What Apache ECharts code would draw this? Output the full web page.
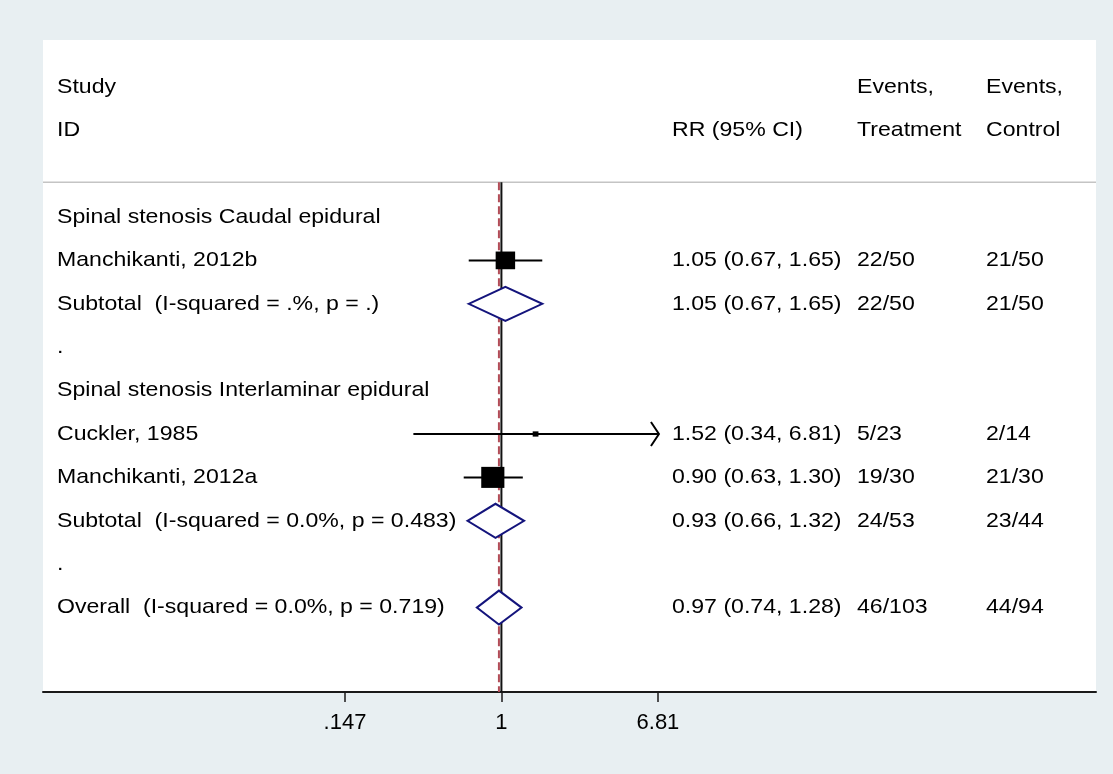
<!DOCTYPE html>
<html>
<head>
<meta charset="utf-8">
<script src="https://cdn.jsdelivr.net/npm/echarts@6/dist/echarts.min.js"></script>
<style>
html,body{margin:0;padding:0;background:#e8eff2;}
#chart{width:1113px;height:774px;}
</style>
</head>
<body>
<div id="chart"></div>
<script>
// ---------- data ----------
var rowLabels = [
  'Spinal stenosis Caudal epidural',
  'Manchikanti, 2012b',
  'Subtotal  (I-squared = .%, p = .)',
  '.',
  'Spinal stenosis Interlaminar epidural',
  'Cuckler, 1985',
  'Manchikanti, 2012a',
  'Subtotal  (I-squared = 0.0%, p = 0.483)',
  '.',
  'Overall  (I-squared = 0.0%, p = 0.719)'
];
var rowTypes = ['group','study','subtotal','blank','group','study','study','subtotal','blank','overall'];
var rrValues = [null, 1.05, 1.05, null, null, 1.52, 0.90, 0.93, null, 0.97];
var ciLow    = [null, 0.67, 0.67, null, null, 0.34, 0.63, 0.66, null, 0.74];
var ciHigh   = [null, 1.65, 1.65, null, null, 6.81, 1.30, 1.32, null, 1.28];
var weights  = [null, 40.0, null, null, null, 3.5, 56.5, null, null, null];
var eventsTreatment = ['', '22/50', '22/50', '', '', '5/23', '19/30', '24/53', '', '46/103'];
var eventsControl   = ['', '21/50', '21/50', '', '', '2/14', '21/30', '23/44', '', '44/94'];
var headerCol1 = ['Study', 'ID'];
var headerCol2 = ['', 'RR (95% CI)'];
var headerCol3 = ['Events,', 'Treatment'];
var headerCol4 = ['Events,', 'Control'];
var tickValues = [0.147, 1, 6.81];
var tickLabels = ['.147', '1', '6.81'];

// ---------- layout ----------
var FONT = '"Liberation Sans", Arial, Helvetica, sans-serif';
var FS = 21, SX = 1.1;
var colX = [57, 672, 857, 986];
var headerRows = [-3, -2];
var sepRow = -0.8;
var xMin = -5.618, xMax = 7.287;
var yMin = -4.078, yMax = 10.945;

var chart = echarts.init(document.getElementById('chart'), null, {renderer: 'canvas'});

function txt(x, y, s) {
  return {type: 'text', x: x, y: y, scaleX: SX,
    style: {text: s, fill: '#000', fontSize: FS, fontFamily: FONT, align: 'left', verticalAlign: 'middle'}};
}
function fmt(i) {
  return rrValues[i].toFixed(2) + ' (' + ciLow[i].toFixed(2) + ', ' + ciHigh[i].toFixed(2) + ')';
}

var rowIdx = rowLabels.map(function (_, i) { return [0, i]; });
var lnTicks = tickValues.map(function (v) { return Math.log(v); });
var overallIdx = rowTypes.indexOf('overall');

var option = {
  animation: false,
  backgroundColor: '#e8eff2',
  grid: {left: 43, right: 17, top: 40, bottom: 82, show: true, backgroundColor: '#ffffff', borderWidth: 0},
  xAxis: {
    type: 'value', min: xMin, max: xMax,
    splitLine: {show: false},
    axisLine: {show: true, onZero: false, lineStyle: {color: '#1a1a1a', width: 2}},
    axisTick: {show: true, customValues: lnTicks, length: 10, lineStyle: {color: '#1a1a1a', width: 1.5}},
    axisLabel: {show: true, customValues: lnTicks, margin: 20, fontSize: 22, fontFamily: FONT, color: '#000',
      formatter: function (v) {
        for (var k = 0; k < lnTicks.length; k++) { if (Math.abs(lnTicks[k] - v) < 1e-6) return tickLabels[k]; }
        return '';
      }}
  },
  yAxis: {type: 'value', min: yMin, max: yMax, inverse: true, show: false},
  series: [
    { // reference lines
      type: 'custom', silent: true, clip: false,
      data: [[0, 0]],
      renderItem: function (params, api) {
        var top = api.coord([0, sepRow])[1];
        var bot = api.coord([0, yMax])[1];
        var x1 = api.coord([0, 0])[0];
        var xo = api.coord([Math.log(rrValues[overallIdx]), 0])[0];
        var gl = api.coord([xMin, 0])[0], gr = api.coord([xMax, 0])[0];
        return {type: 'group', children: [
          {type: 'line', shape: {x1: gl, y1: top, x2: gr, y2: top}, style: {stroke: '#c4c4c4', lineWidth: 1.5}},
          {type: 'line', shape: {x1: x1, y1: top, x2: x1, y2: bot}, style: {stroke: '#111', lineWidth: 2}},
          {type: 'line', shape: {x1: xo, y1: top, x2: xo, y2: bot}, style: {stroke: '#b24c57', lineWidth: 2, lineDash: [8, 4]}}
        ]};
      }
    },
    { // CI lines + squares
      type: 'custom', silent: true, clip: false,
      data: rowIdx,
      renderItem: function (params, api) {
        var i = params.dataIndex;
        if (rowTypes[i] !== 'study') return null;
        var cap = lnTicks[lnTicks.length - 1], capL = lnTicks[0];
        var l = Math.max(Math.log(ciLow[i]), capL), h = Math.min(Math.log(ciHigh[i]), cap);
        var p1 = api.coord([l, i]), p2 = api.coord([h, i]), c = api.coord([Math.log(rrValues[i]), i]);
        var ch = [{type: 'line', shape: {x1: p1[0], y1: p1[1], x2: p2[0], y2: p2[1]}, style: {stroke: '#000', lineWidth: 2}}];
        if (Math.log(ciHigh[i]) >= cap - 1e-9) {
          ch.push({type: 'polyline', shape: {points: [[p2[0] - 7, p2[1] - 12], [p2[0] + 1, p2[1]], [p2[0] - 7, p2[1] + 12]]},
            style: {stroke: '#000', lineWidth: 2, fill: null}});
        }
        var s = 2.8 * Math.sqrt(weights[i]);
        var w = s * SX;
        ch.push({type: 'rect', shape: {x: c[0] - w / 2, y: c[1] - s / 2, width: w, height: s}, style: {fill: '#000'}});
        return {type: 'group', children: ch};
      }
    },
    { // diamonds
      type: 'custom', silent: true, clip: false,
      data: rowIdx,
      renderItem: function (params, api) {
        var i = params.dataIndex;
        if (rowTypes[i] !== 'subtotal' && rowTypes[i] !== 'overall') return null;
        var a = api.coord([Math.log(ciLow[i]), i]), b = api.coord([Math.log(ciHigh[i]), i]), c = api.coord([Math.log(rrValues[i]), i]);
        var hh = 17;
        return {type: 'polygon', shape: {points: [[a[0], a[1]], [c[0], c[1] - hh], [b[0], b[1]], [c[0], c[1] + hh]]},
          style: {stroke: '#14147c', lineWidth: 2, fill: '#ffffff'}};
      }
    },
    { // text
      type: 'custom', silent: true, clip: false,
      data: [[0, 0]],
      renderItem: function (params, api) {
        var ch = [];
        headerRows.forEach(function (r, k) {
          var y = api.coord([0, r])[1];
          if (headerCol1[k]) ch.push(txt(colX[0], y, headerCol1[k]));
          if (headerCol2[k]) ch.push(txt(colX[1], y, headerCol2[k]));
          if (headerCol3[k]) ch.push(txt(colX[2], y, headerCol3[k]));
          if (headerCol4[k]) ch.push(txt(colX[3], y, headerCol4[k]));
        });
        rowLabels.forEach(function (lab, i) {
          var y = api.coord([0, i])[1];
          ch.push(txt(colX[0], y, lab));
          if (rrValues[i] != null) ch.push(txt(colX[1], y, fmt(i)));
          if (eventsTreatment[i]) ch.push(txt(colX[2], y, eventsTreatment[i]));
          if (eventsControl[i]) ch.push(txt(colX[3], y, eventsControl[i]));
        });
        return {type: 'group', children: ch};
      }
    }
  ]
};
chart.setOption(option);
</script>
</body>
</html>
